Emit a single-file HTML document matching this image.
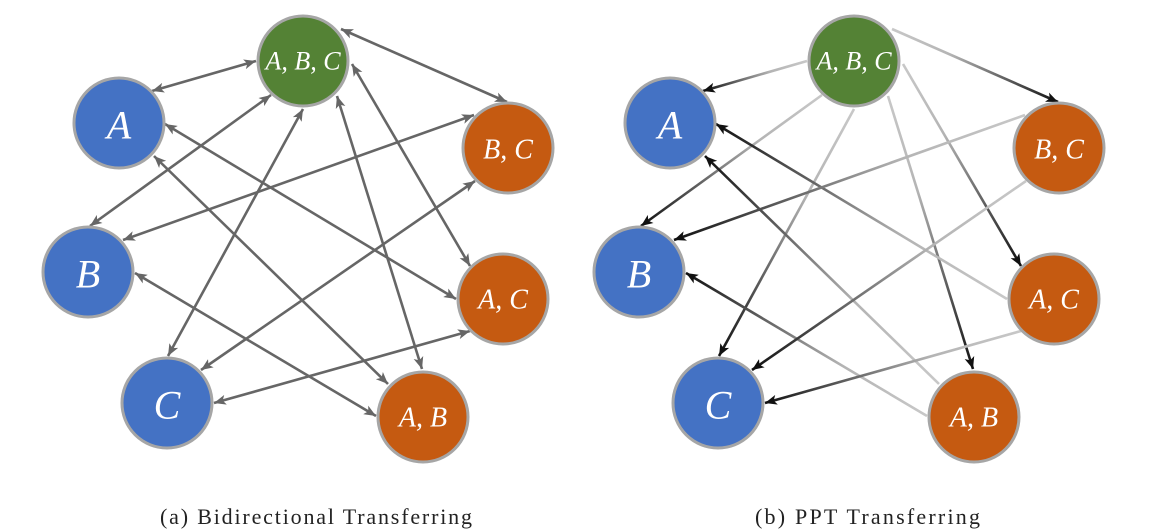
<!DOCTYPE html>
<html><head><meta charset="utf-8"><style>
html,body{margin:0;padding:0;background:#fff;}
svg{display:block;}
.lbl{font-family:"Liberation Serif",serif;font-style:italic;fill:#fff;text-anchor:middle;dominant-baseline:central;}
.cap{font-family:"Liberation Serif",serif;font-size:22px;fill:#222;}
</style></head><body>
<svg id="s" width="1149" height="532" viewBox="0 0 1149 532" xmlns="http://www.w3.org/2000/svg">
<defs>
<marker id="mg" viewBox="0 0 12 10" refX="12" refY="5" markerWidth="12" markerHeight="10" markerUnits="userSpaceOnUse" orient="auto-start-reverse"><path d="M0,0 L12,5 L0,10 L3,5 z" fill="#666"/></marker>
<marker id="mk" viewBox="0 0 12 10" refX="12" refY="5" markerWidth="12" markerHeight="10" markerUnits="userSpaceOnUse" orient="auto"><path d="M0,0 L12,5 L0,10 L3,5 z" fill="#111"/></marker>
</defs>
<g id="edges"></g>
<g id="nodes"></g>
<g id="labels">
<text class="lbl" x="303" y="61" font-size="26">A, B, C</text>
<text class="lbl" x="119" y="125" font-size="40">A</text>
<text class="lbl" x="88" y="274" font-size="40">B</text>
<text class="lbl" x="167" y="405" font-size="40">C</text>
<text class="lbl" x="508" y="150" font-size="28">B, C</text>
<text class="lbl" x="503" y="300" font-size="28">A, C</text>
<text class="lbl" x="423" y="418" font-size="28">A, B</text>
<text class="lbl" x="854" y="61" font-size="26">A, B, C</text>
<text class="lbl" x="670" y="125" font-size="40">A</text>
<text class="lbl" x="639" y="274" font-size="40">B</text>
<text class="lbl" x="718" y="405" font-size="40">C</text>
<text class="lbl" x="1059" y="150" font-size="28">B, C</text>
<text class="lbl" x="1054" y="300" font-size="28">A, C</text>
<text class="lbl" x="974" y="418" font-size="28">A, B</text>
</g>
<text class="cap" x="160" y="524" textLength="312" lengthAdjust="spacing">(a) Bidirectional Transferring</text>
<text class="cap" x="755" y="524" textLength="225" lengthAdjust="spacing">(b) PPT Transferring</text>
</svg>
<script>
var N={ABC:[303,61,'#548235'],A:[119,123,'#4472c4'],B:[88,272,'#4472c4'],C:[167,403,'#4472c4'],BC:[508,148,'#c55a11'],AC:[503,299,'#c55a11'],AB:[423,417,'#c55a11']};
var R=45,OFF=551,NS='http://www.w3.org/2000/svg';
// [source x,y, target x,y] endpoints (source = ABC / pair node, target = arrow end in PPT)
var E=[
[256,61,152,91],
[271,95,90,226],
[303,109,168,356],
[341,29,507,102],
[352,64,470,266],
[337,96,422,369],
[456,299,165,124],
[388,384,154,156],
[474,115,123,240],
[376,416,135,273],
[475,181,201,370],
[470,331,214,403]];
var eg=document.getElementById('edges'),ng=document.getElementById('nodes'),defs=document.querySelector('defs');
function el(n,a,p){var e=document.createElementNS(NS,n);for(var k in a)e.setAttribute(k,a[k]);p.appendChild(e);return e;}
E.forEach(function(e,i){
 for(var side=0;side<2;side++){
  var o=side*OFF;
  var ax=e[0]+o,ay=e[1],bx=e[2]+o,by=e[3];
  if(side==0){
   el('line',{x1:ax,y1:ay,x2:bx,y2:by,stroke:'#666','stroke-width':2.6,'marker-start':'url(#mg)','marker-end':'url(#mg)'},eg);
  }else{
   var g=el('linearGradient',{id:'g'+i,gradientUnits:'userSpaceOnUse',x1:ax,y1:ay,x2:bx,y2:by},defs);
   el('stop',{offset:'0','stop-color':'#c8c8c8'},g);
   el('stop',{offset:'0.35','stop-color':'#b4b4b4'},g);
   el('stop',{offset:'1','stop-color':'#111'},g);
   el('line',{x1:ax,y1:ay,x2:bx,y2:by,stroke:'url(#g'+i+')','stroke-width':2.6,'marker-end':'url(#mk)'},eg);
  }
 }
});
for(var k in N){for(var side=0;side<2;side++){var n=N[k];
 el('circle',{cx:n[0]+side*OFF,cy:n[1],r:R,fill:n[2],stroke:'#a6a6a6','stroke-width':3},ng);}}
</script>
</body></html>
